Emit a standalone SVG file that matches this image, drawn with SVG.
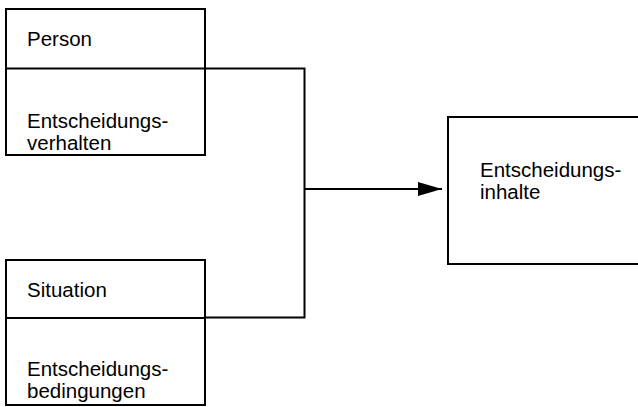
<svg xmlns="http://www.w3.org/2000/svg" width="638" height="407" viewBox="0 0 638 407">
<defs>
<style>
.box{fill:none;stroke:#000;stroke-width:2}
.ln{fill:none;stroke:#000;stroke-width:2}
.t{font-family:"Liberation Sans",Arial,sans-serif;font-size:20.5px;fill:#000}
</style>
<marker id="ah" markerWidth="24" markerHeight="14" refX="24" refY="7" orient="auto" markerUnits="userSpaceOnUse">
<path d="M0,0 L24,7 L0,14 Z" fill="#000"/>
</marker>
</defs>
<rect x="0" y="0" width="638" height="407" fill="#fff"/>
<g id="connectors">
<path class="ln" d="M205,68.5 H304.5 V317.5 H205"/>
<path class="ln" d="M304.5,189 H442" marker-end="url(#ah)"/>
</g>
<g id="person">
<rect class="box" x="6" y="9" width="199" height="146"/>
<line class="ln" x1="6" y1="68.5" x2="205" y2="68.5"/>
<text class="t" x="27" y="46">Person</text>
<text class="t" x="27" y="128">Entscheidungs-<tspan x="27" dy="22">verhalten</tspan></text>
</g>
<g id="situation">
<rect class="box" x="6" y="260" width="199" height="145"/>
<line class="ln" x1="6" y1="318" x2="205" y2="318"/>
<text class="t" x="27" y="297">Situation</text>
<text class="t" x="27" y="376">Entscheidungs-<tspan x="27" dy="22">bedingungen</tspan></text>
</g>
<g id="inhalte">
<path class="box" d="M640,117 H448 V264 H640"/>
<text class="t" x="480" y="177">Entscheidungs-<tspan x="480" dy="22">inhalte</tspan></text>
</g>
</svg>
